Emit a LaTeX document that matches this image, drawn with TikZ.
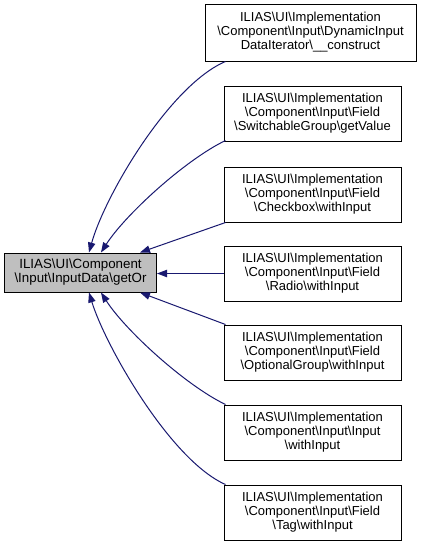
\documentclass[tikz,border=0pt]{standalone}
\usepackage{fontspec}
\setmainfont{Liberation Sans}
\usetikzlibrary{arrows.meta,calc}
\definecolor{edgeblue}{HTML}{191970}
\definecolor{nodegray}{HTML}{BFBFBF}
\newcommand{\bs}{\textbackslash{}}
\begin{document}
\begin{tikzpicture}[x=0.75pt,y=-0.75pt,
  box/.style={draw=black,line width=0.75pt,fill=white,align=center,inner sep=0pt,
    font=\fontsize{9.75pt}{10.5pt}\selectfont,minimum width=132.75pt,minimum height=41.25pt},
  edge/.style={draw=edgeblue,line width=0.75pt,-{Triangle[length=7.5pt,width=5.5pt]}}]
\useasboundingbox (0,0) rectangle (421,547);
\fill[white] (0,0) rectangle (421,547);
\node[box,fill=nodegray,minimum width=114pt,minimum height=29.25pt,
  font=\fontsize{10pt}{10.5pt}\selectfont] (L) at (80.5,272.5)
  {ILIAS\bs UI\bs Component\\\bs Input\bs InputData\bs getOr};
\node[box,minimum width=158.25pt,minimum height=42.75pt] (b1) at (310.5,32.5)
  {ILIAS\bs UI\bs Implementation\\\bs Component\bs Input\bs DynamicInput\\DataIterator\bs \_\_construct};
\node[box] (b2) at (312.5,113.5)
  {ILIAS\bs UI\bs Implementation\\\bs Component\bs Input\bs Field\\\bs SwitchableGroup\bs getValue};
\node[box] (b3) at (312.5,194.5)
  {ILIAS\bs UI\bs Implementation\\\bs Component\bs Input\bs Field\\\bs Checkbox\bs withInput};
\node[box] (b4) at (312.5,273.5)
  {ILIAS\bs UI\bs Implementation\\\bs Component\bs Input\bs Field\\\bs Radio\bs withInput};
\node[box] (b5) at (312.5,352.5)
  {ILIAS\bs UI\bs Implementation\\\bs Component\bs Input\bs Field\\\bs OptionalGroup\bs withInput};
\node[box] (b6) at (312.5,432.5)
  {ILIAS\bs UI\bs Implementation\\\bs Component\bs Input\bs Input\\\bs withInput};
\node[box] (b7) at (312.5,512.5)
  {ILIAS\bs UI\bs Implementation\\\bs Component\bs Input\bs Field\\\bs Tag\bs withInput};
\draw[edge] ($(b1.south west)+(21,0)$) .. controls (170,85) and (105,195) .. ($(L.north west)+(85,0)$);
\draw[edge] ($(b2.south west)+(2,-1)$) .. controls (185,160) and (125,215) .. ($(L.north west)+(97,0)$);
\draw[edge] ($(b3.south west)+(2,0)$) -- ($(L.north west)+(136,0)$);
\draw[edge] (b4.west) -- (L.east |- b4.west);
\draw[edge] ($(b5.north west)+(2,0)$) -- ($(L.south west)+(136,0)$);
\draw[edge] ($(b6.north west)+(2,0)$) .. controls (185,385) and (125,330) .. ($(L.south west)+(97,0)$);
\draw[edge] ($(b7.north west)+(2,0)$) .. controls (170,460) and (105,345) .. ($(L.south west)+(85,0)$);
\end{tikzpicture}
\end{document}
